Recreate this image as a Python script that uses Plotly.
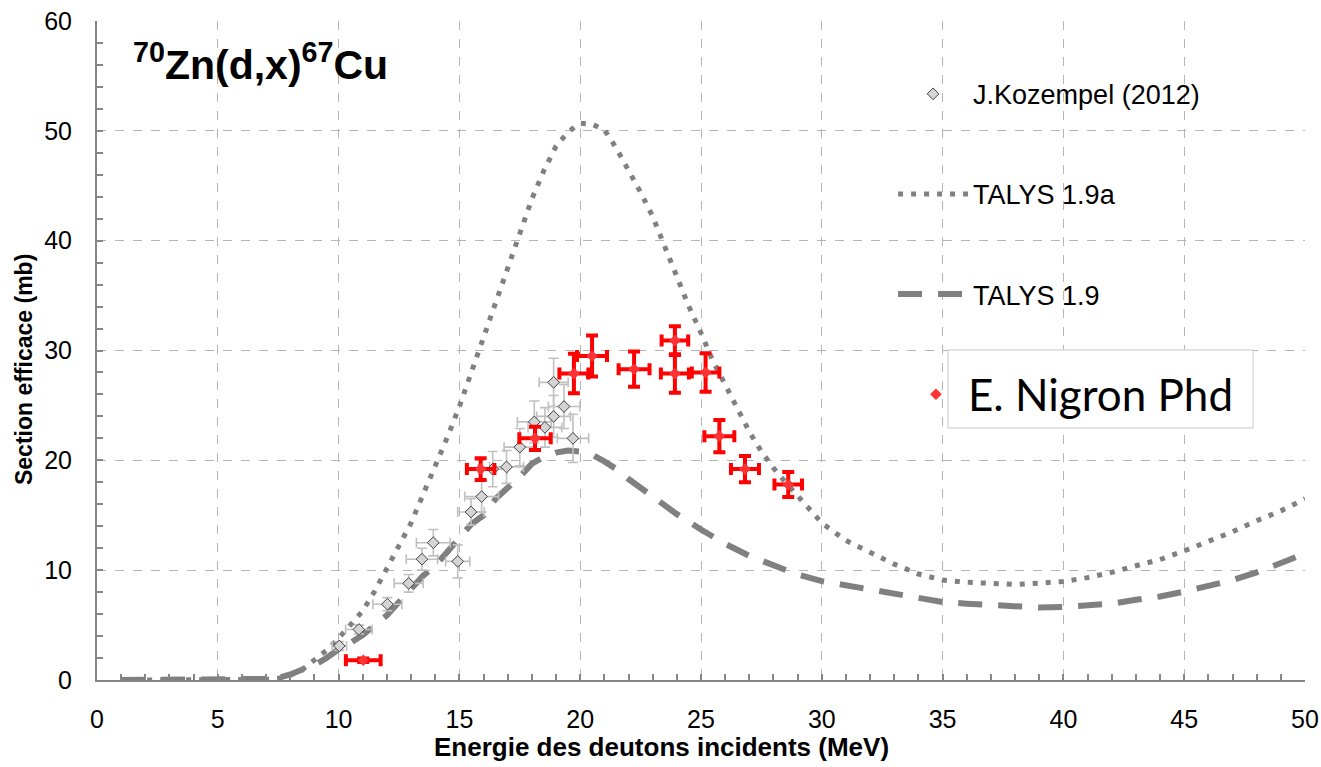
import plotly.graph_objects as go

# ---------------- data ----------------
koz_x = [10.03, 10.84, 12.02, 12.9, 13.45, 13.92, 14.93, 15.48, 15.92, 16.38, 16.95,
         17.5, 18.1, 18.54, 18.9, 19.33, 18.9, 19.7]
koz_y = [3.1, 4.6, 6.9, 8.8, 11.0, 12.5, 10.8, 15.3, 16.7, 19.2, 19.4,
         21.2, 23.5, 23.0, 24.0, 24.9, 27.1, 22.0]
koz_xerr = [0.3, 0.55, 0.6, 0.6, 0.65, 0.7, 0.5, 0.55, 0.7, 0.6, 0.7,
            0.65, 0.7, 0.7, 0.7, 0.65, 0.6, 0.65]
koz_yerr = [0.4, 0.4, 0.6, 0.8, 1.0, 1.2, 1.5, 1.2, 1.4, 1.6, 1.5,
            1.7, 1.9, 1.8, 1.9, 2.0, 2.2, 2.2]

nig_x = [11.02, 15.88, 18.13, 19.74, 20.49, 22.23, 23.92, 23.92, 25.19, 25.76, 26.82, 28.61]
nig_y = [1.8, 19.2, 22.0, 27.9, 29.5, 28.3, 30.9, 27.9, 28.0, 22.2, 19.2, 17.8]
nig_xerr = [0.72, 0.57, 0.65, 0.6, 0.62, 0.64, 0.55, 0.58, 0.57, 0.62, 0.58, 0.57]
nig_yerr = [0.15, 1.0, 1.06, 1.8, 1.87, 1.6, 1.3, 1.75, 1.75, 1.47, 1.2, 1.14]

t19a_x = [1, 2, 3, 4, 5, 6, 7, 7.5, 8, 8.5, 9, 9.5, 10, 10.5, 11, 11.5, 12, 12.5, 13, 13.5,
          14, 14.5, 15, 15.5, 16, 16.5, 17, 17.5, 18, 18.5, 19, 19.5, 20, 20.5, 21, 21.5,
          22, 22.5, 23, 23.5, 24, 24.5, 25, 25.5, 26, 26.5, 27, 27.5, 28, 28.5, 29, 29.5,
          30, 31, 32, 33, 34, 35, 36, 37, 38, 39, 40, 41, 42, 43, 44, 45, 46, 47, 48, 49, 50]
t19a_y = [0, 0, 0, 0, 0, 0, 0.05, 0.15, 0.45, 0.95, 1.8, 2.7, 3.8, 5.0, 6.3, 8.1, 10.2, 12.2,
          14.3, 16.9, 19.4, 22.1, 24.9, 28.0, 31.2, 34.2, 37.5, 40.7, 43.8, 46.4, 48.6, 49.9,
          50.7, 50.6, 50.1, 48.4, 46.5, 44.4, 42.2, 39.4, 36.5, 34.0, 31.6, 29.0, 26.9, 24.7,
          22.6, 20.8, 19.3, 18.0, 16.8, 15.5, 14.3, 12.7, 11.6, 10.55, 9.65, 9.1, 8.9, 8.77,
          8.7, 8.82, 8.97, 9.32, 9.8, 10.4, 10.97, 11.75, 12.57, 13.5, 14.5, 15.4, 16.5]

t19_x = [1, 2, 3, 4, 5, 6, 7, 7.5, 8, 8.5, 9, 9.5, 10, 10.5, 11, 11.5, 12, 12.5, 13, 13.5,
         14, 14.5, 15, 15.5, 16, 16.5, 17, 17.5, 18, 18.5, 19, 19.5, 20, 20.5, 21, 21.5,
         22, 22.5, 23, 23.5, 24, 25, 26, 27, 28, 29, 30, 31, 32, 33, 34, 35, 36, 37, 38,
         39, 40, 41, 42, 43, 44, 45, 46, 47, 48, 49, 50]
t19_y = [0, 0, 0, 0, 0, 0, 0.1, 0.2, 0.5, 0.95, 1.35, 2.0, 2.8, 3.4, 4.1, 5.0, 5.9, 7.1,
         8.4, 9.5, 10.4, 11.6, 13.0, 14.2, 15.0, 16.5, 17.5, 18.5, 19.7, 20.3, 20.7, 20.9,
         20.8, 20.5, 19.9, 19.2, 18.3, 17.5, 16.6, 15.8, 15.1, 13.7, 12.4, 11.3, 10.4, 9.6,
         9.0, 8.6, 8.2, 7.8, 7.4, 7.1, 6.95, 6.8, 6.7, 6.6, 6.65, 6.75, 6.95, 7.3, 7.6,
         8.05, 8.6, 9.1, 9.8, 10.6, 11.5]

x_ticks = [0, 5, 10, 15, 20, 25, 30, 35, 40, 45, 50]
y_ticks = [0, 10, 20, 30, 40, 50, 60]

FONT = "Arial, Liberation Sans, sans-serif"
GRAY = "#808080"
AXIS = "#868686"
GRID = "#b5b5b5"

fig = go.Figure()

fig.add_trace(go.Scatter(
    x=t19a_x, y=t19a_y, mode="lines", name="TALYS 1.9a",
    line=dict(color=GRAY, width=5, dash="5px,8px"),
    legend="legend", legendgroup="b", legendrank=2))

fig.add_trace(go.Scatter(
    x=t19_x, y=t19_y, mode="lines", name="TALYS 1.9",
    line=dict(color=GRAY, width=6, dash="24px,16px"),
    legend="legend", legendgroup="c", legendrank=3))

fig.add_trace(go.Scatter(
    x=koz_x, y=koz_y, mode="markers", name="J.Kozempel (2012)",
    marker=dict(symbol="diamond", size=9, color="#d4d4d4",
                line=dict(color="#404040", width=1)),
    error_x=dict(type="data", array=koz_xerr, color="#c0c0c0", thickness=1.6, width=5),
    error_y=dict(type="data", array=koz_yerr, color="#c0c0c0", thickness=1.6, width=5),
    legend="legend", legendgroup="a", legendrank=1))

fig.add_trace(go.Scatter(
    x=nig_x, y=nig_y, mode="markers", name="E. Nigron Phd",
    marker=dict(symbol="diamond", size=9, color="#ff3333",
                line=dict(color="#ff0000", width=0)),
    error_x=dict(type="data", array=nig_xerr, color="#ff0000", thickness=4, width=6),
    error_y=dict(type="data", array=nig_yerr, color="#ff0000", thickness=4, width=6),
    legend="legend2", legendrank=4))

axis_common = dict(
    showline=True, linecolor=AXIS, linewidth=2, mirror=False, automargin=False,
    showgrid=True, gridcolor=GRID, griddash="dash", gridwidth=1,
    zeroline=False, ticks="inside", tickcolor=AXIS, ticklen=6, tickwidth=1.5,
    tickfont=dict(family=FONT, size=25, color="black"),
)

fig.update_xaxes(
    range=[0, 50], tickvals=x_ticks, ticklabelstandoff=16,
    minor=dict(dtick=1, ticks="inside", ticklen=6, tickcolor=AXIS, showgrid=False),
    **axis_common)

fig.update_yaxes(
    range=[0, 60], tickvals=y_ticks, ticklabelstandoff=18,
    minor=dict(dtick=2, ticks="inside", ticklen=6, tickcolor=AXIS, showgrid=False),
    **axis_common)

# axis titles (centred on the whole chart as in the reference)
fig.add_annotation(
    xref="paper", yref="paper", x=0.4677, y=-0.1017, xanchor="center", yanchor="middle",
    text="<b>Energie des deutons incidents (MeV)</b>", showarrow=False,
    font=dict(family=FONT, size=26, color="black"))
fig.add_annotation(
    xref="paper", yref="paper", x=-0.0604, y=0.4704, xanchor="center", yanchor="middle",
    text="<b>Section efficace (mb)</b>", showarrow=False, textangle=-90,
    font=dict(family=FONT, size=23, color="black"))

fig.add_annotation(
    xref="paper", yref="paper", x=0.028, y=0.938, xanchor="left", yanchor="middle",
    text="<b><sup>70</sup>Zn(d,x)<sup>67</sup>Cu</b>", showarrow=False,
    font=dict(family=FONT, size=41, color="black"))

# white box around the "E. Nigron Phd" legend text
fig.add_shape(
    type="rect", xref="paper", yref="paper", x0=0.7045, x1=0.957, y0=0.3824, y1=0.5008,
    line=dict(color="#c8c8c8", width=1), fillcolor="white", layer="above")

fig.update_layout(
    width=1321, height=767,
    margin=dict(l=97, r=16, t=21, b=87),
    paper_bgcolor="white", plot_bgcolor="white",
    legend=dict(
        x=0.659, y=0.926, xanchor="left", yanchor="top",
        bgcolor="rgba(0,0,0,0)", borderwidth=0,
        font=dict(family=FONT, size=27, color="black"),
        itemwidth=70, traceorder="grouped", tracegroupgap=62,
    ),
    legend2=dict(
        x=0.668, y=0.433, xanchor="left", yanchor="middle",
        bgcolor="rgba(0,0,0,0)", borderwidth=0,
        font=dict(family="Lato, Open Sans, sans-serif", size=44, color="black"),
        itemwidth=54,
    ),
    showlegend=True,
)

fig.write_html(
    "out.html",
    config={"displayModeBar": False},
    post_script="document.body.style.margin='0';document.body.style.padding='0';"
                "document.body.style.overflow='hidden';",
)
